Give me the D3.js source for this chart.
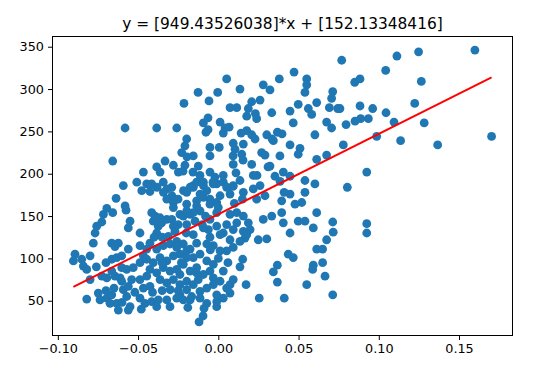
<!DOCTYPE html>
<html>
<head>
<meta charset="utf-8">
<script src="https://cdn.jsdelivr.net/npm/d3@7"></script>
<style>
  body { margin: 0; background: #fff; }
  svg { display: block; font-family: "DejaVu Sans", sans-serif; }
</style>
</head>
<body>
<div id="chart"></div>
<script>
// [bmi, target] pairs
const points = [
  [0.1599,346],[0.1703,244],[0.1248,344],[0.1113,339],[0.1043,322],[0.0769,334],[0.0850,308],[0.0883,312],[0.1265,309],[0.1224,283],
  [0.0962,277],[0.0883,280],[0.1045,272],[0.0758,277],[0.0796,258],[0.0852,262],[0.0887,265],[0.0935,265],[0.1095,261],[0.1283,260],
  [0.0987,244],[0.1136,239],[0.1367,234],[0.0779,234],[0.0925,202],[0.0804,184],[0.0925,141],[0.0925,130],
  [0.0472,320],[0.0380,312],[0.0052,312],[0.0551,312],[0.0551,305],[-0.0126,296],[-0.0004,296],[0.0135,300],[0.0280,305],[0.0322,299],
  [0.0540,296],[0.0713,297],[0.0706,289],[-0.0058,286],[0.0208,285],[0.0260,287],[0.0498,282],[0.0613,284],[0.0073,278],[0.0115,278],
  [0.0187,277],[0.0231,271],[0.0333,272],[0.0447,274],[0.0561,277],[0.0582,270],[0.0692,278],[0.0744,277],[0.0177,268],[0.0239,265],
  [-0.0093,260],[0.0011,261],[0.0467,260],[0.0675,261],[0.0706,254],[-0.0077,249],[0.0031,248],[0.0177,251],[0.0208,246],[0.0302,246],
  [0.0368,249],[0.0602,246],[0.0343,239],[0.0093,236],[0.0156,235],[0.0447,234],[0.0509,230],[-0.0052,231],[0.0006,231],[-0.0156,221],
  [-0.0052,221],[0.0146,223],[0.0270,225],[0.0384,221],[0.0498,223],[0.0613,217],[0.0675,222],[-0.0125,209],[0.0093,211],[0.0208,211],
  [0.0322,209],[0.0405,202],[-0.0114,198],[-0.0052,202],[0.0031,198],[0.0135,192],[0.0218,198],[0.0540,192],[0.0602,188],[-0.0093,186],
  [-0.0010,188],[0.0260,186],
  [0.0447,176],[0.0540,178],[0.0395,168],[0.0520,166],[0.0291,174],[0.0613,154],[0.0280,146],[0.0395,154],[0.0405,142],[0.0447,130],
  [0.0498,144],[0.0540,144],[0.0592,136],[0.0713,143],[0.0716,131],[0.0675,122],[0.0613,111],[0.0650,111],[0.0650,95],[0.0592,92],
  [0.0588,87],[0.0665,79],[0.0551,69],[0.0713,57],[0.0436,105],[0.0467,101],[0.0368,92],[0.0343,84],[0.0368,72],[0.0411,53],
  [0.0255,53],[0.0173,69],[0.0135,90],[0.0152,99],[0.0249,122],[0.0302,123],[0.0333,150],[0.0410,178],[0.0478,164],
  [0.0115,142],[0.0093,134],[0.0156,132],[0.0198,134],[0.0073,122],[0.0166,124],[0.0031,130],[-0.0010,138],[-0.0052,146],[0.0115,154],
  [0.0073,152],[0.0156,150],[0.0187,142],[-0.0062,134],[-0.0010,154],
  [-0.0156,186],[-0.0093,190],[-0.0031,188],[0.0031,190],[0.0093,186],[-0.0114,176],[-0.0052,170],[0.0011,174],[0.0073,176],[0.0156,178],
  [0.0218,182],[0.0239,170],
  [-0.0217,180],[-0.0176,184],[-0.0072,180],[0.0052,184],[-0.0197,164],[-0.0135,168],[-0.0093,172],[-0.0052,164],[-0.0010,166],[-0.0239,152],
  [-0.0176,152],[-0.0114,156],[-0.0197,140],[-0.0145,144],[-0.0156,128],[-0.0093,136],[0.0011,128],[0.0052,140],[0.0177,128],[0.0135,120],
  [0.0093,113],[0.0052,109],[0.0011,109],[-0.0031,115],[-0.0072,117],[-0.0052,125],[-0.0218,117],[-0.0239,105],[-0.0197,109],[-0.0156,101],
  [-0.0114,105],[-0.0072,97],[-0.0031,93],[-0.0218,93],[-0.0176,85],[-0.0135,89],[-0.0093,81],[-0.0052,85],[-0.0031,77],[-0.0239,81],
  [-0.0197,73],[-0.0156,69],[-0.0114,61],[-0.0072,65],[-0.0031,69],[0.0011,73],[0.0031,85],[-0.0239,57],[-0.0176,51],[-0.0114,53],
  [-0.0072,47],[-0.0010,49],[0.0031,53],[0.0052,65],[0.0073,69],[-0.0010,57],[-0.0089,41],[-0.0095,32],[-0.0120,25],[0.0073,59],
  [-0.0010,43],[0.0093,75],
  [-0.0064,266],[0.0042,254],[0.0067,255],[-0.0064,252],[0.0142,248],[0.0229,241],[0.0335,241],[0.0397,247],[-0.0197,241],[-0.0208,233],
  [-0.0228,225],[0.0104,229],[0.0291,222],[0.0092,221],[-0.0195,220],[-0.0158,202],[-0.0220,203],[-0.0021,196],[0.0154,216],[0.0110,201],
  [0.0241,198],[0.0310,208],[0.0353,197],[0.0447,197],[-0.0033,190],[0.0092,185],[0.0385,191],[-0.0214,283],
  [-0.0592,186],[-0.0508,190],[-0.0467,202],[-0.0415,188],[-0.0384,208],[-0.0363,202],[-0.0343,190],[-0.0332,215],[-0.0280,210],[-0.0249,202],
  [-0.0290,184],[-0.0658,215],[-0.0581,254],[-0.0384,254],[-0.0259,254],[-0.0208,210],
  [-0.0477,180],[-0.0426,179],[-0.0382,184],[-0.0320,182],[-0.0289,174],[-0.0251,170],[-0.0637,171],[-0.0695,159],[-0.0658,154],[-0.0581,162],
  [-0.0575,157],[-0.0446,188],[-0.0342,178],[-0.0321,170],[-0.0280,166],[-0.0197,178],[-0.0156,184],[-0.0135,190],
  [-0.0550,144],[-0.0561,136],[-0.0488,130],[-0.0415,154],[-0.0394,150],[-0.0405,144],[-0.0374,138],[-0.0384,130],[-0.0321,146],[-0.0290,146],
  [-0.0280,138],[-0.0270,132],[-0.0311,126],[-0.0259,120],[-0.0218,150],[-0.0156,154],[-0.0135,162],[-0.0197,156],
  [-0.0758,138],[-0.0726,143],[-0.0768,130],[-0.0664,118],[-0.0644,114],[-0.0623,118],[-0.0779,118],[-0.0893,105],[-0.0903,97],[-0.0851,99],
  [-0.0841,91],[-0.0799,103],[-0.0820,87],[-0.0799,75],[-0.0561,111],[-0.0664,99],[-0.0633,101],[-0.0602,103],[-0.0726,79],[-0.0695,77],
  [-0.0664,85],[-0.0644,79],[-0.0612,77],[-0.0602,89],[-0.0571,87],[-0.0530,89],[-0.0488,95],[-0.0467,103],[-0.0446,111],
  [-0.0820,52],[-0.0748,59],[-0.0737,51],[-0.0695,53],[-0.0675,47],[-0.0633,47],[-0.0623,39],[-0.0664,57],[-0.0592,63],[-0.0571,55],
  [-0.0602,73],[-0.0561,67],[-0.0540,75],[-0.0550,43],[-0.0488,53],[-0.0457,47],[-0.0415,49],[-0.0384,43],[-0.0374,51],[-0.0467,65],
  [-0.0426,67],[-0.0488,75],[-0.0446,79],[-0.0321,51],[-0.0301,43],[-0.0259,53],[-0.0218,51],[-0.0166,55],[-0.0197,63],[-0.0561,39],
  [-0.0716,152],[-0.0363,148],[-0.0353,142],[-0.0280,160],
  [-0.0488,115],[-0.0426,118],[-0.0384,111],[-0.0343,115],[-0.0301,117],[-0.0259,113],[-0.0176,111],[-0.0135,118],[-0.0446,99],[-0.0405,95],
  [-0.0363,101],[-0.0321,97],[-0.0280,103],[-0.0197,101],[-0.0426,87],[-0.0384,83],[-0.0343,89],[-0.0301,85],[-0.0259,87],[-0.0135,83],
  [-0.0363,75],[-0.0321,71],[-0.0280,75],[-0.0239,69],[-0.0125,75],
  [-0.0700,62],[-0.0650,65],[-0.0600,48],[-0.0520,60],[-0.0480,40],[-0.0410,60],[-0.0350,62],[-0.0300,63],[-0.0250,62],[-0.0190,42],
  [-0.0350,95],[-0.0230,95],[-0.0400,125],[-0.0350,125],[-0.0250,140],[-0.0200,130],[-0.0100,140],[-0.0050,110],[0.0000,100],[0.0060,95],
  [-0.0080,150],[0.0000,160],[0.0100,165],[0.0150,170],[-0.0700,95],[-0.0760,90]
];

const xTicks = [-0.10, -0.05, 0.00, 0.05, 0.10, 0.15];
const yTicks = [50, 100, 150, 200, 250, 300, 350];

// fitted line, as printed in the title
const slope = 949.43526038;
const intercept = 152.13348416;
const title = "y = [949.43526038]*x + [152.13348416]";

const width = 543;
const height = 380;
const margin = { top: 36.5, right: 30.5, bottom: 44.5, left: 52.5 };

const svg = d3.select("#chart")
  .append("svg")
  .attr("width", width)
  .attr("height", height);

// matplotlib-style 5% padding around the data
function padded(ext) {
  const p = (ext[1] - ext[0]) * 0.05;
  return [ext[0] - p, ext[1] + p];
}

const xExt = d3.extent(points, d => d[0]);
const yExt = d3.extent(points, d => d[1]);

const x = d3.scaleLinear()
  .domain(padded(xExt))
  .range([margin.left, width - margin.right]);

const y = d3.scaleLinear()
  .domain(padded(yExt))
  .range([height - margin.bottom, margin.top]);

// scatter
svg.append("g")
  .selectAll("circle")
  .data(points)
  .join("circle")
  .attr("cx", d => x(d[0]))
  .attr("cy", d => y(d[1]))
  .attr("r", 4.4)
  .attr("fill", "#1f77b4");

// regression line over the data range
const fit = xExt.map(v => [v, slope * v + intercept]);
svg.append("path")
  .datum(fit)
  .attr("fill", "none")
  .attr("stroke", "#ff0000")
  .attr("stroke-width", 1.9)
  .attr("d", d3.line().x(d => x(d[0])).y(d => y(d[1])));

// axes
const xAxis = svg.append("g")
  .attr("transform", `translate(0,${height - margin.bottom})`)
  .call(d3.axisBottom(x).tickValues(xTicks).tickFormat(d3.format(".2f"))
    .tickSize(4.5).tickPadding(4).tickSizeOuter(0));

const yAxis = svg.append("g")
  .attr("transform", `translate(${margin.left},0)`)
  .call(d3.axisLeft(y).tickValues(yTicks).tickFormat(d3.format("d"))
    .tickSize(4.5).tickPadding(4).tickSizeOuter(0));

[xAxis, yAxis].forEach(g => {
  g.select(".domain").remove();
  g.attr("font-family", "DejaVu Sans").attr("font-size", 12.8);
  g.selectAll(".tick line").attr("stroke", "#000").attr("stroke-width", 1);
  g.selectAll(".tick text").attr("fill", "#000");
});

// frame
svg.append("rect")
  .attr("x", margin.left)
  .attr("y", margin.top)
  .attr("width", width - margin.left - margin.right)
  .attr("height", height - margin.top - margin.bottom)
  .attr("fill", "none")
  .attr("stroke", "#000")
  .attr("stroke-width", 1);

// title
svg.append("text")
  .attr("x", (margin.left + width - margin.right) / 2)
  .attr("y", 29)
  .attr("text-anchor", "middle")
  .attr("font-size", 15.4)
  .attr("fill", "#000")
  .text(title);
</script>
</body>
</html>
